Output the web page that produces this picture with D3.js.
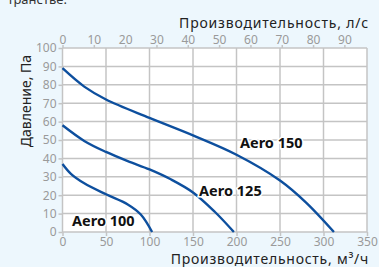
<!DOCTYPE html>
<html><head><meta charset="utf-8">
<script src="https://cdn.jsdelivr.net/npm/d3@7"></script>
<style>
html,body{margin:0;padding:0;background:#edf7fd;}
svg{display:block;font-family:"Noto Sans",sans-serif;}
</style></head><body>
<svg id="c" width="379" height="267"></svg>
<script>
const xTicks = [0,50,100,150,200,250,300,350];
const yTicks = [0,10,20,30,40,50,60,70,80,90,100];
const topTicks = [0,10,20,30,40,50,60,70,80,90];
const seriesNames = ["Aero 100","Aero 125","Aero 150"];
const aero100 = [[0,37],[10,31.5],[25,26.5],[50,20.5],[75,15],[90,9.5],[103,0]];
const aero125 = [[0,58],[25,49.5],[50,43.5],[75,38.5],[100,34],[125,28.5],[150,21.5],[175,11],[197,0]];
const aero150 = [[0,89],[25,79],[50,72],[100,62],[150,52.5],[200,42],[250,28],[280,16],[312,0]];
const labelPos = [[11,3],[157,19.5],[204,45.5]];
const lsToM3h = 3.6;

const svg = d3.select("#c");
const L=62.5,R=367,T=48,B=232;
const x = d3.scaleLinear().domain([0,350]).range([L,R]);
const y = d3.scaleLinear().domain([0,100]).range([B,T]);

svg.append("text").attr("x",67).attr("y",4).attr("text-anchor","end")
  .attr("font-size",13).attr("fill","#333").text("транстве.");

svg.append("rect").attr("x",L).attr("y",T).attr("width",R-L).attr("height",B-T).attr("fill","#fff");

const grid = svg.append("g").attr("stroke","#c4c4c4").attr("stroke-width",1.5);
grid.selectAll(".v").data(xTicks).join("line")
  .attr("x1",d=>x(d)).attr("x2",d=>x(d)).attr("y1",T).attr("y2",B);
grid.selectAll(".h").data(yTicks).join("line")
  .attr("x1",L).attr("x2",R).attr("y1",d=>y(d)).attr("y2",d=>y(d));

const tickCol="#9a9a9a";
const gx = svg.append("g").attr("transform",`translate(0,${B})`)
  .call(d3.axisBottom(x).tickValues(xTicks).tickSize(4).tickPadding(1));
const gy = svg.append("g").attr("transform",`translate(${L},0)`)
  .call(d3.axisLeft(y).tickValues(yTicks).tickSize(4).tickPadding(2));
const gt = svg.append("g").attr("transform",`translate(0,${T})`)
  .call(d3.axisTop(d3.scaleLinear().domain([0,350/lsToM3h]).range([L,R])).tickValues(topTicks).tickSize(3).tickPadding(1));
[gx,gy,gt].forEach(g=>{
  g.select(".domain").remove();
  g.selectAll(".tick line").attr("stroke","#c4c4c4").attr("stroke-width",1.5);
  g.selectAll(".tick text").attr("fill",tickCol).attr("font-size",12).attr("font-family","Noto Sans");
});

const line = d3.line().x(d=>x(d[0])).y(d=>y(d[1])).curve(d3.curveCatmullRom.alpha(0.5));
[aero100,aero125,aero150].forEach(s=>{
  svg.append("path").attr("d",line(s)).attr("fill","none")
    .attr("stroke","#0d4f9e").attr("stroke-width",2.4);
});

seriesNames.forEach((n,i)=>{
  svg.append("text").attr("x",x(labelPos[i][0])).attr("y",y(labelPos[i][1]))
    .attr("font-size",14.5).attr("font-weight","bold").attr("fill","#111")
    .attr("stroke","#fff").attr("stroke-width",3).attr("paint-order","stroke")
    .text(n);
});

svg.append("text").attr("x",369).attr("y",28).attr("text-anchor","end")
  .attr("font-size",14).attr("letter-spacing",0.8).attr("fill","#222").text("Производительность, л/с");
svg.append("text").attr("x",369).attr("y",264).attr("text-anchor","end")
  .attr("font-size",14).attr("letter-spacing",0.75).attr("fill","#222").text("Производительность, м³/ч");
svg.append("text").attr("transform","translate(31,101) rotate(-90)").attr("text-anchor","middle")
  .attr("font-size",14).attr("fill","#222").text("Давление, Па");
</script></body></html>
